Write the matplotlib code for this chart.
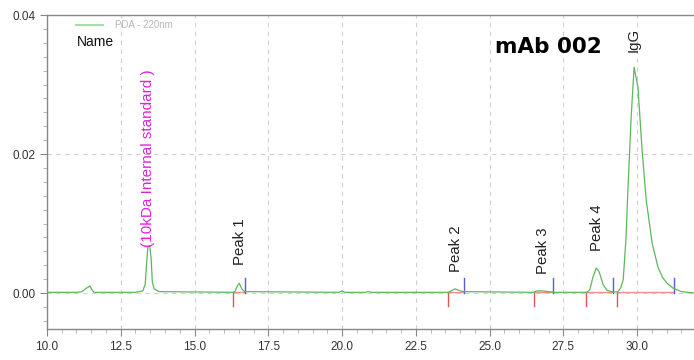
import matplotlib
matplotlib.use("Agg")
import matplotlib.pyplot as plt
from matplotlib.ticker import MultipleLocator

# PDA 220 nm trace (retention time in min, absorbance in AU)
time_min = [10.0, 11.0, 11.19, 11.3, 11.46, 11.53, 11.6, 13.0, 13.25, 13.33,
            13.38, 13.42, 13.48, 13.53, 13.57, 13.63, 13.8, 16.3, 16.37, 16.45,
            16.52, 16.6, 16.7, 19.9, 20.0, 20.1, 20.8, 20.9, 21.0, 23.6,
            23.7, 23.83, 23.95, 24.1, 26.5, 26.6, 26.8, 27.0, 27.2, 28.3,
            28.4, 28.5, 28.62, 28.72, 28.85, 28.98, 29.19, 29.35, 29.45, 29.53,
            29.62, 29.69, 29.80, 29.90, 30.03, 30.17, 30.31, 30.51, 30.71, 30.87,
            31.02, 31.22, 31.5, 31.93]
absorbance = [0.0001, 0.0001, 0.0002, 0.0006, 0.0010, 0.0004, 0.0001, 0.0001, 0.0003, 0.0013,
              0.0045, 0.0066, 0.0068, 0.0050, 0.0016, 0.0006, 0.0002, 0.0001, 0.0002, 0.0010,
              0.0014, 0.0006, 0.0002, 0.0001, 0.0003, 0.0001, 0.0001, 0.0002, 0.0001, 0.0001,
              0.0003, 0.0006, 0.0004, 0.0002, 0.0001, 0.0003, 0.0003, 0.0002, 0.0001, 0.0001,
              0.0005, 0.0022, 0.0036, 0.0030, 0.0012, 0.0004, 0.0001, 0.0002, 0.0008, 0.0019,
              0.0075, 0.0148, 0.0253, 0.0325, 0.0296, 0.0206, 0.0134, 0.0072, 0.0037, 0.0022,
              0.0014, 0.0007, 0.0002, 0.0000]

# Integration events: peak start (red) and end (blue)
peak_start = [16.31, 23.59, 26.51, 28.27, 29.32]
peak_end = [16.71, 24.14, 27.15, 29.19, 31.25]

# Peak annotations
peak_names = ["(10kDa Internal standard )", "Peak 1", "Peak 2", "Peak 3", "Peak 4", "IgG"]
label_x = [13.42, 16.54, 23.86, 26.81, 28.64, 29.90]
label_y = [0.0066, 0.0040, 0.0030, 0.0027, 0.0060, 0.0347]
label_colors = ["#e020e0", "#222222", "#222222", "#222222", "#222222", "#222222"]
label_sizes = [11, 10.8, 10.8, 10.8, 10.8, 10.8]

x_ticks = [10.0, 12.5, 15.0, 17.5, 20.0, 22.5, 25.0, 27.5, 30.0]
y_ticks = [0.00, 0.02, 0.04]

plt.rcParams["font.family"] = ["Liberation Sans", "DejaVu Sans"]

fig = plt.figure(figsize=(6.94, 3.60), dpi=100)
ax = fig.add_axes([0.0677, 0.0861, 0.9323, 0.8722])

ax.set_xlim(10.0, 31.93)
ax.set_ylim(-0.00518, 0.04)

# dashed grid
for xv in x_ticks[1:]:
    ax.axvline(xv, color="#d0d0d0", lw=0.8, ls=(0, (4, 4)), zorder=0)
for yv in y_ticks:
    ax.axhline(yv, color="#d0d0d0", lw=0.8, ls=(0, (4, 4)), zorder=0)

# integration baselines and markers
for s, e in zip(peak_start, peak_end):
    ax.plot([s, e], [0.0001, 0.0001], color="#f09090", lw=1.0, zorder=1)
    ax.plot([s, s], [0.0, -0.0019], color="#e05555", lw=1.0, zorder=2)
    ax.plot([e, e], [0.0, 0.0021], color="#5a5ae0", lw=1.0, zorder=2)

ax.plot(time_min, absorbance, color="#5cb85c", lw=0.9, zorder=3)

for name, xv, yv, c, fs in zip(peak_names, label_x, label_y, label_colors, label_sizes):
    ax.text(xv, yv, name, rotation=90, ha="center", va="bottom",
            fontsize=fs, color=c, zorder=4)

# legend-like header
ax.plot([11.0, 11.9], [0.0386, 0.0386], color="#a8dca8", lw=1.5)
ax.text(12.3, 0.0386, "PDA - 220nm", fontsize=7, color="#b8b8b8", va="center")
ax.text(11.0, 0.0361, "Name", fontsize=10, color="#111111", va="center")
ax.text(25.19, 0.0354, "mAb 002", fontsize=15.5, fontweight="bold",
        family=["DejaVu Sans"], color="#000000", va="center")

ax.set_xticks(x_ticks)
ax.set_xticklabels([f"{v:.1f}" for v in x_ticks])
ax.set_yticks(y_ticks)
ax.set_yticklabels([f"{v:.2f}" for v in y_ticks])
ax.xaxis.set_minor_locator(MultipleLocator(0.5))
ax.yaxis.set_minor_locator(MultipleLocator(0.002))
ax.tick_params(which="major", length=5, width=0.8, color="#888888",
               labelsize=8.5, labelcolor="#333333")
ax.tick_params(which="minor", length=3, width=0.6, color="#aaaaaa")

for side in ["left", "bottom", "top"]:
    ax.spines[side].set_color("#888888")
    ax.spines[side].set_linewidth(1.0)
ax.spines["right"].set_visible(False)

fig.savefig("out.png", dpi=100)
